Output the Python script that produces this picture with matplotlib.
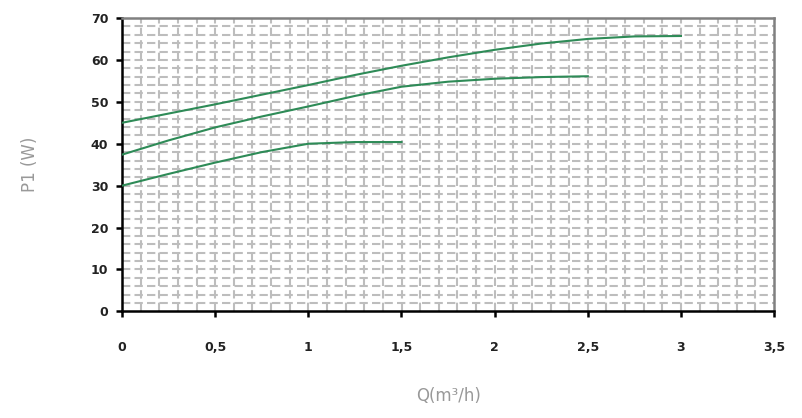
import matplotlib
matplotlib.use("Agg")
import matplotlib.pyplot as plt
import numpy as np

# Data
q_top = [0, 0.25, 0.5, 0.75, 1.0, 1.25, 1.5, 1.75, 2.0, 2.25, 2.5, 2.75, 3.0]
p_top = [45.0, 47.2, 49.4, 51.7, 54.0, 56.4, 58.6, 60.6, 62.4, 63.9, 65.0, 65.6, 65.7]

q_mid = [0, 0.25, 0.5, 0.75, 1.0, 1.25, 1.5, 1.75, 2.0, 2.25, 2.5]
p_mid = [37.4, 40.8, 43.9, 46.5, 48.9, 51.4, 53.6, 54.8, 55.5, 55.9, 56.1]

q_low = [0, 0.25, 0.5, 0.75, 1.0, 1.25, 1.5]
p_low = [30.0, 32.8, 35.5, 38.0, 40.0, 40.4, 40.4]

x_ticks = [0, 0.5, 1, 1.5, 2, 2.5, 3, 3.5]
x_tick_labels = ["0", "0,5", "1", "1,5", "2", "2,5", "3", "3,5"]
y_ticks = [0, 10, 20, 30, 40, 50, 60, 70]

fig = plt.figure(figsize=(8.03, 4.18), dpi=100)
ax = fig.add_axes([0.152, 0.255, 0.812, 0.702])

line_color = "#2e8b57"
for q, p in [(q_top, p_top), (q_mid, p_mid), (q_low, p_low)]:
    ax.plot(q, p, color=line_color, lw=1.5, zorder=3)

ax.set_xlim(0, 3.5)
ax.set_ylim(0, 70)

# fine dashed grid
grid_style = dict(color="#bdbdbd", lw=1.5, ls=(0, (4, 2)), zorder=1)
for gx in np.arange(0.1, 3.5, 0.1):
    ax.axvline(gx, **grid_style)
for gy in np.arange(2, 70, 2):
    ax.axhline(gy, **grid_style)

ax.set_xticks(x_ticks)
ax.set_xticklabels(x_tick_labels)
ax.set_yticks(y_ticks)

for s in ["left", "bottom"]:
    ax.spines[s].set_color("black")
    ax.spines[s].set_linewidth(1.8)
for s in ["top", "right"]:
    ax.spines[s].set_color("#808080")
    ax.spines[s].set_linewidth(1.8)

ax.tick_params(axis="both", direction="out", length=4, width=1.8, color="black",
               labelsize=9, labelcolor="#222222")
ax.tick_params(axis="x", pad=17)
ax.tick_params(axis="y", pad=6)
for lab in ax.get_xticklabels() + ax.get_yticklabels():
    lab.set_fontweight("bold")

ax.set_xlabel("Q(m³/h)", fontsize=12, color="#999999", labelpad=24)
ax.set_ylabel("P1 (W)", fontsize=12, color="#999999", labelpad=37)

fig.savefig("out.png", dpi=100)
